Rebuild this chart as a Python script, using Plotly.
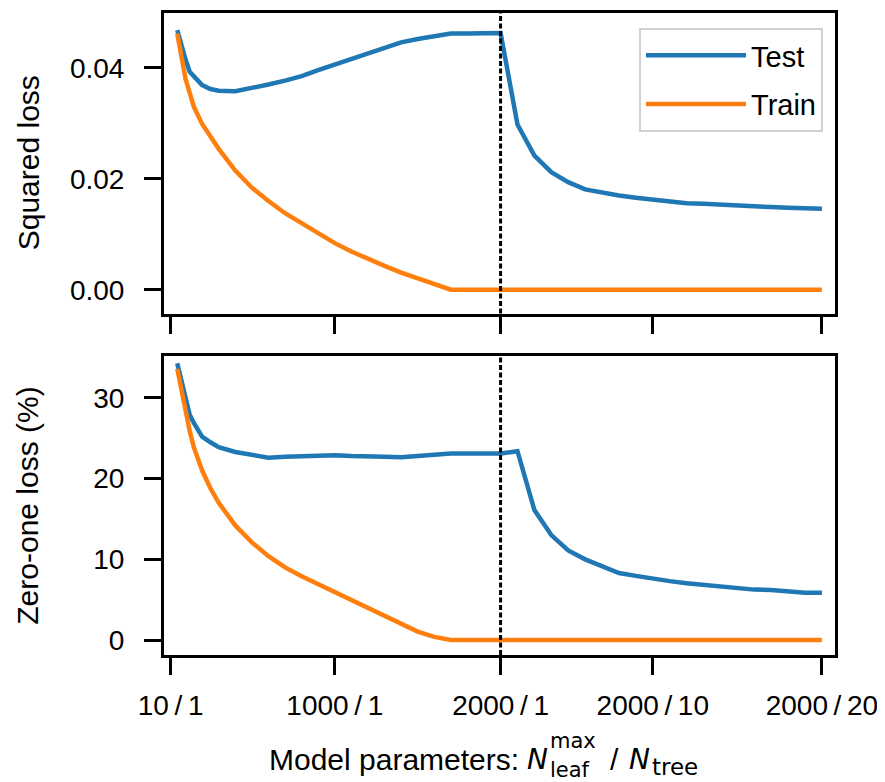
import plotly.graph_objects as go
from plotly.subplots import make_subplots

# ---------------- data ----------------
# phase 1: single tree, growing max number of leaves
leaves = [50, 75, 100, 125, 150, 200, 250, 300, 400, 500, 600, 700, 800, 900,
          1000, 1100, 1200, 1300, 1400, 1500, 1600, 1700, 1800, 1900, 2000]
# phase 2: 2000 leaves, growing number of trees
trees = [1, 2, 3, 4, 5, 6, 7, 8, 9, 10, 11, 12, 13, 14, 15, 16, 17, 18, 19, 20]

sq_test_leaf = [0.0468, 0.0440, 0.0415, 0.0393, 0.0384, 0.0369, 0.0362, 0.0359, 0.0358,
                0.0363, 0.0370, 0.0377, 0.0385, 0.0396, 0.0406, 0.0417, 0.0428, 0.0437,
                0.0446, 0.0452, 0.0458, 0.0462, 0.0462, 0.0462, 0.0463]
sq_train_leaf = [0.0462, 0.0418, 0.0380, 0.0355, 0.0330, 0.0299, 0.0276, 0.0254, 0.0215,
                 0.0184, 0.0160, 0.0138, 0.0120, 0.0102, 0.0084, 0.0069, 0.0055, 0.0043,
                 0.0031, 0.0020, 0.0009, 0.0, 0.0, 0.0, 0.0]
sq_test_tree = [0.0463, 0.0298, 0.0242, 0.0212, 0.0194, 0.0181, 0.0175, 0.0170, 0.0166,
                0.0162, 0.0159, 0.0156, 0.0155, 0.0153, 0.0152, 0.0150, 0.0149, 0.0148,
                0.0147, 0.0146]
sq_train_tree = [0.0, 0.0, 0.0, 0.0, 0.0, 0.0, 0.0, 0.0, 0.0, 0.0,
                 0.0, 0.0, 0.0, 0.0, 0.0, 0.0, 0.0, 0.0, 0.0, 0.0]

zo_test_leaf = [34.3, 32.3, 30.0, 27.9, 26.9, 25.2, 24.5, 23.9, 23.3, 22.9, 22.6, 22.7,
                22.8, 22.9, 22.9, 22.8, 22.7, 22.7, 22.65, 22.8, 22.95, 23.1, 23.1, 23.1, 23.1]
zo_train_leaf = [33.6, 31.0, 28.3, 25.9, 23.9, 21.0, 18.8, 17.0, 14.2, 12.1, 10.4, 9.0,
                 7.9, 6.9, 5.9, 4.9, 3.9, 2.9, 1.9, 1.05, 0.4, 0.0, 0.0, 0.0, 0.0]
zo_test_tree = [23.1, 23.4, 16.1, 13.0, 11.1, 10.0, 9.2, 8.3, 7.95, 7.6, 7.3, 7.05, 6.85,
                6.67, 6.5, 6.25, 6.2, 6.03, 5.85, 5.85]
zo_train_tree = [0.0, 0.0, 0.0, 0.0, 0.0, 0.0, 0.0, 0.0, 0.0, 0.0,
                 0.0, 0.0, 0.0, 0.0, 0.0, 0.0, 0.0, 0.0, 0.0, 0.0]

tick_leaves = [10, 1000, 2000]
tick_trees = [1, 10, 20]
TS = "\u2009"
tick_labels = ["10" + TS + "/" + TS + "1", "1000" + TS + "/" + TS + "1",
               "2000" + TS + "/" + TS + "1", "2000" + TS + "/" + TS + "10",
               "2000" + TS + "/" + TS + "20"]
PAD = "\u2002"  # keeps the y tick labels clear of the ticks
sq_tick_labels = ["0.00", "0.02", "0.04"]
zo_tick_labels = ["0", "10", "20", "30"]
max_leaves = 2000
tree_step = 102  # horizontal axis units per extra tree


def pos_leaf(n):
    return n


def pos_tree(t):
    return max_leaves + (t - 1) * tree_step


x_leaf = [pos_leaf(v) for v in leaves]
x_tree = [pos_tree(v) for v in trees]
x_all = x_leaf + x_tree[1:]
tickvals = [pos_leaf(v) for v in tick_leaves] + [pos_tree(v) for v in tick_trees[1:]]

BLUE = "#1f77b4"
ORANGE = "#ff7f0e"
FONT = "Liberation Sans, Arial, Helvetica, sans-serif"

fig = make_subplots(rows=2, cols=1, shared_xaxes=True, vertical_spacing=0.0)

panels = [
    (1, sq_test_leaf + sq_test_tree[1:], sq_train_leaf + sq_train_tree[1:], True),
    (2, zo_test_leaf + zo_test_tree[1:], zo_train_leaf + zo_train_tree[1:], False),
]
for row, test, train, show in panels:
    fig.add_trace(go.Scatter(x=x_all, y=test, mode="lines", name="Test",
                             line=dict(color=BLUE, width=4.5), showlegend=show,
                             legendgroup="test"), row=row, col=1)
    fig.add_trace(go.Scatter(x=x_all, y=train, mode="lines", name="Train",
                             line=dict(color=ORANGE, width=4.5), showlegend=show,
                             legendgroup="train"), row=row, col=1)

axis_common = dict(showline=True, linecolor="black", linewidth=3, mirror=True,
                   ticks="outside", ticklen=17, tickwidth=3, tickcolor="black",
                   showgrid=False, zeroline=False,
                   tickfont=dict(family=FONT, size=28, color="black"))

fig.update_xaxes(**axis_common, range=[-30, 4017], tickvals=tickvals, ticktext=tick_labels)
fig.update_xaxes(ticklabelstandoff=6, row=2, col=1)
fig.update_yaxes(**axis_common)
fig.update_yaxes(range=[-0.0043, 0.0499], tickvals=[0.0, 0.02, 0.04],
                 ticktext=[t + PAD for t in sq_tick_labels], row=1, col=1)
fig.update_yaxes(range=[-1.85, 35.14], tickvals=[0, 10, 20, 30],
                 ticktext=[t + PAD for t in zo_tick_labels], row=2, col=1)

fig.update_layout(
    yaxis=dict(domain=[0.5318, 1.0]),
    yaxis2=dict(domain=[0.0, 0.4651]),
)

# dashed separator at the switch from leaves to trees
for yref in ["y domain", "y2 domain"]:
    fig.add_shape(type="line", xref="x", yref=yref, x0=max_leaves, x1=max_leaves,
                  y0=0, y1=1, line=dict(color="black", width=3, dash="5px,2.5px"),
                  layer="above")

ann_font = dict(family=FONT, size=30, color="black")
math_font = dict(family="DejaVu Sans, sans-serif", size=28, color="black")
small_math = dict(family="DejaVu Sans, sans-serif", size=21, color="black")


def px_x(p):
    return (p - 164) / 671.0


def px_y(p):
    return (655 - p) / 645.0


annotations = [
    dict(text="Squared loss", x=px_x(28), y=(0.5318 + 1) / 2, textangle=-90,
         font=ann_font),
    dict(text="Zero-one loss (%)", x=px_x(28), y=0.4651 / 2, textangle=-90,
         font=ann_font),
    dict(text="Model parameters:", x=px_x(521), y=px_y(760), xanchor="right",
         font=ann_font),
    dict(text="<i>N</i>", x=px_x(525), y=px_y(760), xanchor="left", font=math_font),
    dict(text="max", x=px_x(548), y=px_y(741), xanchor="left", font=small_math),
    dict(text="leaf", x=px_x(548), y=px_y(771), xanchor="left", font=small_math),
    dict(text="/", x=px_x(608), y=px_y(760), xanchor="left", font=ann_font),
    dict(text="<i>N</i>", x=px_x(627), y=px_y(760), xanchor="left", font=math_font),
    dict(text="tree", x=px_x(650), y=px_y(768), xanchor="left",
         font=dict(family="DejaVu Sans, sans-serif", size=23, color="black")),
]
for a in annotations:
    a.update(xref="paper", yref="paper", showarrow=False)
    a.setdefault("xanchor", "center")
    a.setdefault("yanchor", "middle")
fig.update_layout(annotations=annotations)

# the page adds an 8px body margin, so the figure is 8px smaller than the window
fig.update_layout(
    width=877, height=774,
    margin=dict(l=156, r=50, t=2, b=127),
    plot_bgcolor="white", paper_bgcolor="white",
    font=dict(family=FONT, size=28, color="black"),
    legend=dict(x=px_x(823), y=px_y(25), xanchor="right", yanchor="top",
                bgcolor="white", bordercolor="#d0d0d0", borderwidth=2,
                font=dict(family=FONT, size=29, color="black"),
                itemwidth=100, tracegroupgap=8),
)

fig.write_html("out.html")
